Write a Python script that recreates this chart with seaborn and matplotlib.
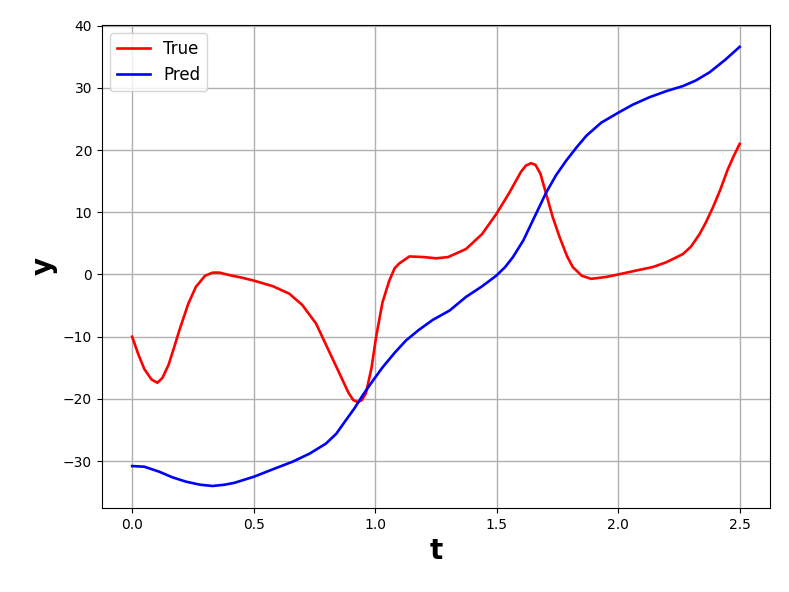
import matplotlib
matplotlib.use("Agg")
import matplotlib.pyplot as plt
import seaborn as sns
import pandas as pd

# values
t_true = [0.0, 0.025, 0.05, 0.08, 0.104, 0.125, 0.15, 0.172, 0.194, 0.23, 0.262, 0.3, 0.331,
          0.36, 0.4, 0.45, 0.502, 0.58, 0.647, 0.7, 0.757, 0.8, 0.853, 0.89, 0.91, 0.928,
          0.945, 0.962, 0.985, 1.004, 1.03, 1.058, 1.08, 1.1, 1.141, 1.2, 1.25, 1.3, 1.374,
          1.44, 1.498, 1.55, 1.6, 1.62, 1.642, 1.66, 1.68, 1.704, 1.73, 1.759, 1.79, 1.813,
          1.85, 1.889, 1.95, 2.0, 2.07, 2.143, 2.2, 2.267, 2.3, 2.335, 2.36, 2.39, 2.42,
          2.45, 2.475, 2.5]
y_true = [-10.0, -12.8, -15.2, -16.9, -17.4, -16.6, -14.5, -11.8, -9.0, -4.8, -2.0, -0.2,
          0.3, 0.3, -0.1, -0.5, -1.0, -1.9, -3.1, -4.9, -7.9, -11.5, -15.9, -19.0, -20.2,
          -20.5, -20.2, -19.1, -15.0, -10.0, -4.5, -1.0, 1.0, 1.8, 2.9, 2.8, 2.6, 2.8, 4.1,
          6.5, 9.7, 13.0, 16.5, 17.5, 17.9, 17.6, 16.2, 12.9, 9.3, 6.0, 2.9, 1.2, -0.2, -0.7,
          -0.4, 0.0, 0.6, 1.2, 2.0, 3.3, 4.5, 6.5, 8.3, 10.8, 13.6, 16.8, 19.0, 21.0]

t_pred = [0.0, 0.05, 0.111, 0.165, 0.221, 0.28, 0.331, 0.38, 0.42, 0.502, 0.58, 0.66, 0.73,
          0.797, 0.84, 0.88, 0.915, 0.949, 0.99, 1.031, 1.08, 1.127, 1.18, 1.237, 1.306,
          1.374, 1.44, 1.498, 1.535, 1.567, 1.61, 1.649, 1.704, 1.745, 1.786, 1.83, 1.869,
          1.93, 2.0, 2.06, 2.129, 2.2, 2.267, 2.32, 2.376, 2.44, 2.5]
y_pred = [-30.8, -30.9, -31.7, -32.6, -33.3, -33.8, -34.0, -33.8, -33.5, -32.5, -31.3,
          -30.1, -28.8, -27.2, -25.6, -23.4, -21.5, -19.4, -17.1, -14.9, -12.6, -10.6, -8.9,
          -7.3, -5.8, -3.6, -1.9, -0.2, 1.2, 2.8, 5.5, 8.7, 13.2, 16.0, 18.3, 20.5, 22.3,
          24.4, 26.0, 27.3, 28.5, 29.5, 30.3, 31.2, 32.5, 34.5, 36.6]

df = pd.concat([
    pd.DataFrame({"t": t_true, "y": y_true, "series": "True"}),
    pd.DataFrame({"t": t_pred, "y": y_pred, "series": "Pred"}),
])

fig, ax = plt.subplots(figsize=(7.89, 5.92), dpi=100)
fig.subplots_adjust(left=0.129, right=0.976, top=0.958, bottom=0.142)

sns.lineplot(data=df, x="t", y="y", hue="series", palette={"True": "red", "Pred": "blue"},
             linewidth=1.9, sort=False, estimator=None, ax=ax)

ax.grid(True, color="#b0b0b0", linewidth=1)
ax.set_axisbelow(True)
ax.set_xlabel("t", fontsize=20, fontweight="bold")
ax.set_ylabel("y", fontsize=20, fontweight="bold")
ax.set_yticks([-30, -20, -10, 0, 10, 20, 30, 40])
ax.legend(loc="upper left", fontsize=12)

plt.savefig("out.png", dpi=100)
